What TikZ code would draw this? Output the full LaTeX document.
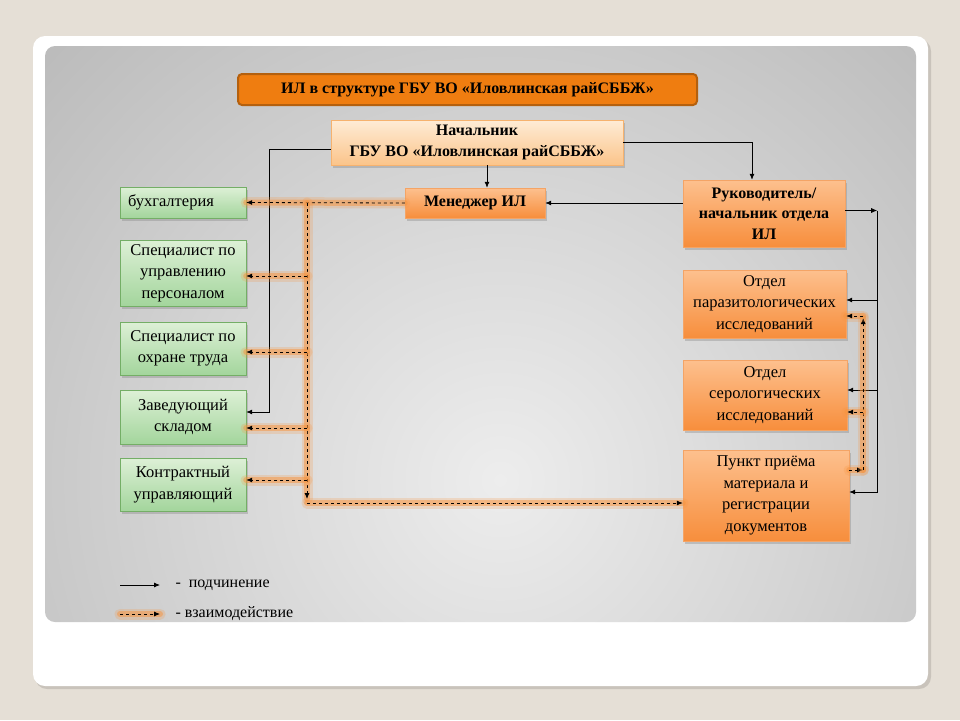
\documentclass[tikz,border=0pt]{standalone}
\usepackage{fontspec}
\setmainfont{Liberation Serif}
\usepackage{tikz}
\usetikzlibrary{arrows.meta,shadows}
\definecolor{slidebg}{HTML}{E5DFD6}
\definecolor{panellight}{HTML}{EDEDED}
\definecolor{paneldark}{HTML}{969696}
\definecolor{titleorange}{HTML}{EF7D10}
\definecolor{titleedge}{HTML}{B4600E}
\definecolor{peachtop}{HTML}{FEECD6}
\definecolor{peachbot}{HTML}{FBC48A}
\definecolor{peachedge}{HTML}{F6B26E}
\definecolor{orangetop}{HTML}{FDC08E}
\definecolor{orangebot}{HTML}{F78E3C}
\definecolor{orangeedge}{HTML}{F4A466}
\definecolor{greentop}{HTML}{DDF0D6}
\definecolor{greenbot}{HTML}{A3D59C}
\definecolor{greenedge}{HTML}{74AE66}
\definecolor{glow}{HTML}{F7943E}
\newcommand{\boxfont}{\fontsize{16.5}{21.5}\selectfont}
\newcommand{\headfont}{\fontsize{16}{20.5}\selectfont\bfseries}
\newcommand{\legfont}{\fontsize{16}{18}\selectfont}
\tikzset{
  boxshadow/.style={drop shadow={opacity=0.35, shadow xshift=2pt, shadow yshift=-2.5pt}},
  greenbox/.style={draw=greenedge, top color=greentop, bottom color=greenbot, boxshadow,
    minimum width=126pt, align=center, inner sep=1pt, font=\boxfont},
  orangebox/.style={draw=orangeedge, top color=orangetop, bottom color=orangebot, boxshadow,
    align=center, inner sep=1pt, font=\boxfont},
  sub/.style={black, line width=0.8pt, -{Latex[length=6pt,width=5pt]}},
  inter/.style={black, line width=0.8pt, dashed, -{Latex[length=6pt,width=5pt]},
    preaction={draw=glow, solid, arrows=-, line cap=round, line width=11pt, opacity=0.22},
    preaction={draw=glow, solid, arrows=-, line cap=round, line width=6pt, opacity=0.5}},
}

\begin{document}
\begin{tikzpicture}[x=1pt, y=-1pt]
  \useasboundingbox (0,0) rectangle (960,720);

  % slide and grey panel
  \fill[slidebg] (0,0) rectangle (960,720);
  \fill[black, opacity=0.12, rounded corners=12pt] (35,39) rectangle (931,689);
  \fill[white, rounded corners=12pt] (33,36) rectangle (928,686);
  \begin{scope}
    \clip[rounded corners=10pt] (45,46) rectangle (916,622);
    \shade[inner color=panellight, outer color=paneldark] (500,480) circle (1100);
  \end{scope}

  % title
  \node (title) at (467.5,89.5) [fill=titleorange, draw=titleedge, line width=2pt,
    rounded corners=4pt, minimum width=459pt, minimum height=31pt, font=\headfont]
    {ИЛ в структуре ГБУ ВО «Иловлинская райСББЖ»};

  % head and manager
  \node (nach) at (477,142.5) [orangebox, draw=peachedge, top color=peachtop, bottom color=peachbot,
    minimum width=292pt, minimum height=45pt, font=\headfont]
    {Начальник\\ГБУ ВО «Иловлинская райСББЖ»};
  \node (men) at (475,203) [orangebox, minimum width=140pt, minimum height=30pt, font=\headfont]
    {Менеджер ИЛ};

  % right column
  \node (ruk) at (764,213.5) [orangebox, minimum width=162pt, minimum height=67pt, font=\headfont]
    {Руководитель/\\начальник отдела\\ИЛ};
  \node (otdpar) at (764.5,304) [orangebox, minimum width=163pt, minimum height=68pt]
    {Отдел\\паразитологических\\исследований};
  \node (otdser) at (765,395) [orangebox, minimum width=164pt, minimum height=70pt]
    {Отдел\\серологических\\исследований};
  \node (punkt) at (766,495.5) [orangebox, minimum width=166pt, minimum height=91pt]
    {Пункт приёма\\материала и\\регистрации\\документов};

  % left column
  \node (buh) at (183,202.5) [greenbox, minimum height=31pt, text width=110pt, align=left]
    {бухгалтерия};
  \node (pers) at (183,273) [greenbox, minimum height=66pt]
    {Специалист по\\управлению\\персоналом};
  \node (ohr) at (183,348.5) [greenbox, minimum height=53pt]
    {Специалист по\\охране труда};
  \node (sklad) at (183,417) [greenbox, minimum height=54pt]
    {Заведующий\\складом};
  \node (kontr) at (183,484.5) [greenbox, minimum height=53pt]
    {Контрактный\\управляющий};

  % subordination
  \draw[sub] ([yshift=-7pt]nach.west) -- ++(-61,0) |- ([yshift=5pt]sklad.east);
  \draw[sub] (nach.east) -| ([xshift=-12pt]ruk.north);
  \draw[sub] ([xshift=12pt]men.north |- nach.south) -- ([xshift=12pt]men.north);
  \draw[sub] (ruk.west |- men.east) -- (men.east);
  \draw[sub] ([yshift=3pt]ruk.east) -- ++(32,0) coordinate (rbus);
  \draw[sub] (rbus) |- ([yshift=3.5pt]punkt.east);
  \draw[sub] ([yshift=4pt]otdpar.east -| rbus) -- ([yshift=4pt]otdpar.east);
  \draw[sub] ([yshift=5pt]otdser.east -| rbus) -- ([yshift=5pt]otdser.east);

  % interaction, left
  \coordinate (lbus) at (307,203);
  \draw[inter] (men.west) -- (buh.east);
  \draw[inter] (lbus) -- ++(0,296);
  \draw[inter] ([yshift=-7.5pt]punkt.west -| lbus) -- ([yshift=-7.5pt]punkt.west);
  \draw[inter] ([yshift=-3pt]pers.east -| lbus) -- ([yshift=-3pt]pers.east);
  \draw[inter] ([yshift=-3.5pt]ohr.east -| lbus) -- ([yshift=-3.5pt]ohr.east);
  \draw[inter] ([yshift=-11pt]sklad.east -| lbus) -- ([yshift=-11pt]sklad.east);
  \draw[inter] ([yshift=4.5pt]kontr.east -| lbus) -- ([yshift=4.5pt]kontr.east);

  % interaction, right
  \draw[inter] ([yshift=25.5pt]punkt.east) -- ++(14,0) coordinate (dbus);
  \draw[inter] (dbus) -- ([yshift=-14pt]otdpar.east -| dbus);
  \draw[inter] ([yshift=-12pt]otdpar.east -| dbus) -- ([yshift=-12pt]otdpar.east);
  \draw[inter] ([yshift=-17pt]otdser.east -| dbus) -- ([yshift=-17pt]otdser.east);

  % legend
  \coordinate (legsub) at (120,585);
  \coordinate (leginter) at (120,614);
  \draw[sub] (legsub) -- ++(40,0);
  \node (legsubtxt) at (172,585) [anchor=west, font=\legfont] {-\ \ подчинение};
  \draw[inter] (leginter) -- ++(40,0);
  \node (leginttxt) at (172,614) [anchor=west, font=\legfont] {- взаимодействие};
\end{tikzpicture}
\end{document}
